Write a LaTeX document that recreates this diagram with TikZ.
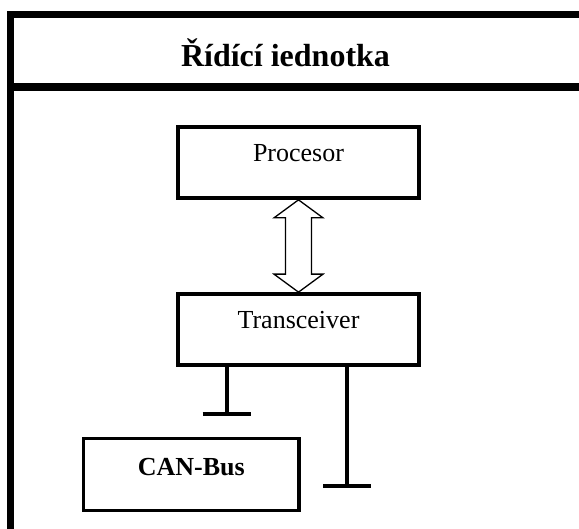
\documentclass[tikz,border=0pt]{standalone}
\usepackage{fontspec}
\setmainfont{Liberation Serif}
\usetikzlibrary{calc}
\tikzset{
  boxnode/.style={draw, line width=3.7pt, rectangle, inner sep=0pt, minimum width=241pt, minimum height=71pt},
  boxtext/.style={anchor=base, inner sep=0pt, font=\fontsize{26}{30}\selectfont},
  frameline/.style={line width=7.3pt, line join=miter},
  stubline/.style={line width=4pt},
  dblarrow/.style={draw, line width=1.3pt, fill=white, line join=miter}
}
\begin{document}
\begin{tikzpicture}[x=1pt,y=-1pt]
\useasboundingbox (0,0) rectangle (579,529);
\clip (0,0) rectangle (579,529);
\fill[white] (0,0) rectangle (579,529);
% outer frame
\coordinate (fl) at (10.5,600);
\coordinate (ftl) at (10.5,14.5);
\coordinate (fr) at (650,14.5);
\draw[frameline] (fl) -- (ftl) -- (fr);
\coordinate (dl) at (7,87);
\coordinate (dr) at (650,87);
\draw[frameline] (dl) -- (dr);
\node[anchor=base, inner sep=0pt, font=\bfseries\fontsize{32}{37}\selectfont] (title) at (285.5,67) {Řídící iednotka};
% boxes
\node[boxnode] (pc) at (298.5,162.5) {};
\node[boxtext] (pct) at ($(pc.north)+(0,36)$) {Procesor};
\node[boxnode] (tc) at (298.5,329.5) {};
\node[boxtext] (tct) at ($(tc.north)+(0,36)$) {Transceiver};
\node[boxnode, minimum width=215.5pt, minimum height=72pt] (can) at (191.25,474.5) {};
\node[boxtext, font=\bfseries\fontsize{26}{30}\selectfont] (cant) at ($(can.north)+(0,38.5)$) {CAN-Bus};
% double arrow between processor and transceiver
\coordinate (at) at ($(pc.south)+(0,0)$);
\coordinate (ab) at ($(tc.north)+(0,0)$);
\draw[dblarrow] (at) -- ($(at)+(24.5,18)$) -- ($(at)+(13,18)$) -- ($(ab)+(13,-18)$) -- ($(ab)+(24.5,-18)$)
  -- (ab) -- ($(ab)+(-24.5,-18)$) -- ($(ab)+(-13,-18)$) -- ($(at)+(-13,18)$) -- ($(at)+(-24.5,18)$) -- cycle;
% stubs
\coordinate (s1) at (226.5,414);
\draw[stubline] (tc.south -| s1) -- (s1);
\draw[stubline] ($(s1)+(-24,0)$) -- ($(s1)+(24,0)$);
\coordinate (s2) at (347,486);
\draw[stubline] (tc.south -| s2) -- (s2);
\draw[stubline] ($(s2)+(-24,0)$) -- ($(s2)+(24,0)$);
\end{tikzpicture}
\end{document}
